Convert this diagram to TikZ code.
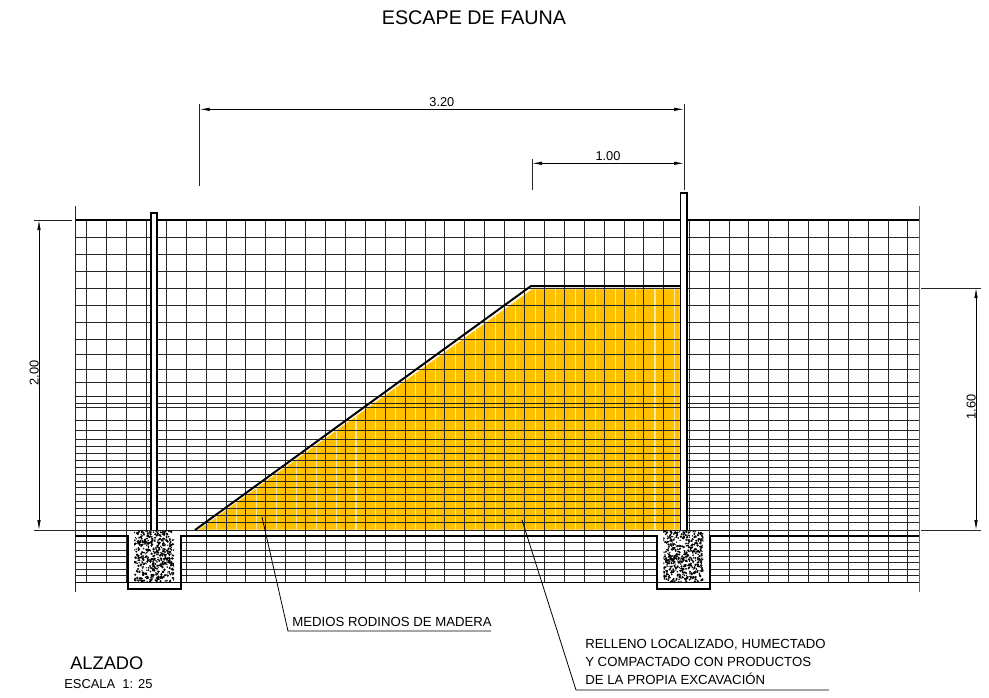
\documentclass[tikz,border=0pt]{standalone}
\usepackage{fontspec}
\setmainfont{Liberation Sans}
\usetikzlibrary{arrows.meta}
\definecolor{relleno}{HTML}{FFC000}
\definecolor{vetaclara}{HTML}{FFE9A0}
\tikzset{
  gridline/.style={black!85,line width=.7pt},
  wallline/.style={black,line width=1.2pt},
  rampline/.style={black,line width=1.5pt},
  postline/.style={black,fill=white,line width=.9pt},
  dimline/.style={black,line width=.55pt,{Latex[length=7.5pt,width=2.6pt]}-{Latex[length=7.5pt,width=2.6pt]}},
  extline/.style={black!85,line width=.55pt},
  leaderline/.style={black,line width=.6pt},
  dimtext/.style={font=\fontsize{9.6}{11}\selectfont,inner sep=0pt},
  notetext/.style={font=\fontsize{9.9}{11}\selectfont,inner sep=0pt,anchor=base west}
}
\begin{document}
\begin{tikzpicture}[x=.75pt,y=-.75pt]
  \useasboundingbox (0,0) rectangle (989,697);

  \coordinate (rampfoot) at (195,530);
  \coordinate (ramptop)  at (531,286);
  \coordinate (rampend)  at (680,286);

  \fill[relleno,draw=vetaclara,line width=.5pt] (198,530) -- (532,289) -- (680,289) -- (680,530) -- cycle;
  \begin{scope}
    \clip (198,530) -- (532,289) -- (680,289) -- (680,530) -- cycle;
    \foreach \x in {0,...,23}
      \draw[vetaclara,line width=.8pt] ({216.5+19.93*\x},280) -- ({216.5+19.93*\x},530);
  \end{scope}

  \foreach \y in {237.7,254.3,271.7,288.3,305,322,339,354.3,369.3,382.7,396.3,403.7,407.7,420,430.3,439.3,446.7,453,460,467.7,474.3,481,487.7,494.3,501,508.3,515.7,522.3,542.7,550,556,562.7,569,575.7}
    \draw[gridline] (75,\y) -- (919,\y);
  \foreach \x in {0,...,29}
    \draw[gridline] ({86.7+19.9*\x},220) -- ({86.7+19.9*\x},582);
  \foreach \x in {0,...,11}
    \draw[gridline] ({689.3+19.87*\x},220) -- ({689.3+19.87*\x},582);

  \draw[gridline] (75,530) -- (919,530);
  \draw[wallline] (75,220) -- (919,220);
  \draw[gridline] (75,206) -- (75,592);
  \draw[gridline,black!60] (919,206) -- (919,592);
  \draw[rampline] (rampfoot) -- (ramptop) -- (rampend);

  \draw[postline] (151,530) -- (151,213) -- (157,213) -- (157,530);
  \draw[postline] (680.5,530) -- (680.5,193) -- (687,193) -- (687,530);

  \draw[wallline,line width=1.5pt,fill=white] (75,536) -- (127.7,536) -- (127.7,589.3) -- (180.7,589.3) -- (180.7,536) -- (657,536) -- (657,589.3) -- (710.3,589.3) -- (710.3,536) -- (919,536);

  \pgfmathsetseed{4217}
  \foreach \xo in {134,663.3}{
    \fill[white] (\xo,530.5) rectangle ++(40,51.5);
    \begin{scope}
      \clip (\xo,530.5) rectangle ++(40,51.5);
      \foreach \i in {1,...,520}{
        \pgfmathsetmacro{\px}{\xo+40*rnd}
        \pgfmathsetmacro{\py}{530.5+51.5*rnd}
        \pgfmathsetmacro{\pr}{.5+.45*rnd}
        \fill[black] (\px,\py) circle (\pr pt);
      }
    \end{scope}
  }
  \draw[wallline] (75,582.3) -- (919,582.3);

  \coordinate (dima) at (199.7,109.3);
  \coordinate (dimb) at (684,109.3);
  \coordinate (dimc) at (532,163.3);
  \coordinate (dimd) at (684,163.3);
  \coordinate (dime) at (39,220);
  \coordinate (dimf) at (39,530);
  \coordinate (dimg) at (976,288);
  \coordinate (dimh) at (976,530);

  \draw[extline] (199.7,104) -- (199.7,186);
  \draw[extline] (684,104) -- (684,190);
  \draw[extline] (532,159) -- (532,190);
  \draw[extline] (34,220) -- (72,220);
  \draw[extline] (34,530) -- (75,530);
  \draw[extline] (921,288) -- (981,288);
  \draw[extline] (921,530) -- (981,530);

  \draw[dimline] (dima) -- (dimb) node[dimtext,pos=.5,above=1.7pt] (dimtres) {3.20};
  \draw[dimline] (dimc) -- (dimd) node[dimtext,pos=.5,above=1.7pt] (dimuno) {1.00};
  \draw[dimline] (dime) -- (dimf) node[dimtext,pos=.5,above=1.7pt,rotate=90] (dimdos) {2.00};
  \draw[dimline] (dimg) -- (dimh) node[dimtext,pos=.5,above=1.7pt,rotate=90] (dimsei) {1.60};

  \node[font=\fontsize{14.8}{17}\selectfont,inner sep=0pt] (titulo) at (474,18) {ESCAPE DE FAUNA};

  \coordinate (medioa) at (262,517);
  \coordinate (mediob) at (288,631);
  \coordinate (medioc) at (491,631);
  \coordinate (rellena) at (522,520);
  \coordinate (rellenb) at (576,690);
  \coordinate (rellenc) at (829,690);
  \draw[leaderline] (medioa) -- (mediob) -- (medioc);
  \draw[leaderline] (rellena) -- (rellenb) -- (rellenc);

  \node[notetext] (medios) at (292,626) {MEDIOS RODINOS DE MADERA};
  \node[notetext] (relleno1) at (585,648) {RELLENO LOCALIZADO, HUMECTADO};
  \node[notetext] (relleno2) at (585,666) {Y COMPACTADO CON PRODUCTOS};
  \node[notetext] (relleno3) at (585,684) {DE LA PROPIA EXCAVACIÓN};
  \node[inner sep=0pt,anchor=base west,font=\fontsize{13.7}{15}\selectfont] (alzado) at (70,669) {ALZADO};
  \node[inner sep=0pt,anchor=base west,font=\fontsize{9.7}{11}\selectfont] (escala) at (64,688) {ESCALA\ \ 1: 25};
\end{tikzpicture}
\end{document}
